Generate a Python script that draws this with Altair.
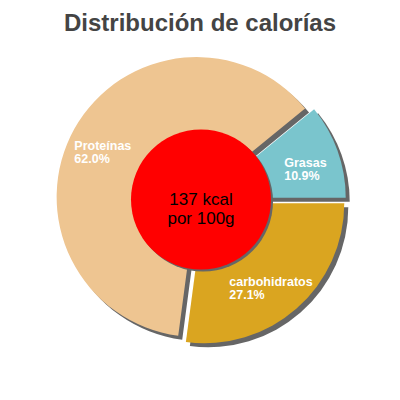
import altair as alt
import pandas as pd

# ---- data ----
categories = ["carbohidratos", "Proteínas", "Grasas"]
percent = [27.1, 62.0, 10.9]
colors = ["#DAA520", "#EEC591", "#7AC5CD"]
center_lines = ["137 kcal", "por 100g"]
title_text = "Distribución de calorías"

df = pd.DataFrame({"idx": list(range(len(categories))), "name": categories, "value": percent})
center_df = pd.DataFrame({"text": ["\n".join(center_lines)]})

# ---- layout / style ----
CX, CY = 193, 151.5
R = 140
EXPLODE = 5
LABEL_R = 105
SDX, SDY = 4, 4
FONT = "Liberation Sans"

base = (
    alt.Chart(df)
    .transform_joinaggregate(total="sum(value)")
    .transform_window(cum="sum(value)", sort=[alt.SortField("idx")], frame=[None, 0])
    .transform_calculate(
        t0="PI/2 + 2*PI*(datum.cum - datum.value)/datum.total",
        t1="PI/2 + 2*PI*datum.cum/datum.total",
    )
    .transform_calculate(mid="(datum.t0 + datum.t1)/2")
    .transform_calculate(
        cx=f"{CX} + {EXPLODE}*sin(datum.mid)",
        cy=f"{CY} - {EXPLODE}*cos(datum.mid)",
    )
    .transform_calculate(
        sx=f"datum.cx + {SDX}",
        sy=f"datum.cy + {SDY}",
        lx=f"datum.cx + {LABEL_R}*sin(datum.mid) - length(datum.name)*3.4",
        ly=f"datum.cy - {LABEL_R}*cos(datum.mid)",
        label="datum.name + '\\n' + format(datum.value, '.1f') + '%'",
    )
)

theta_enc = dict(
    theta=alt.Theta("t0:Q", scale=None, stack=None),
    theta2=alt.Theta2("t1:Q"),
)

shadow = base.mark_arc(radius=R, color="#666666").encode(
    x=alt.X("sx:Q", scale=None, axis=None),
    y=alt.Y("sy:Q", scale=None, axis=None),
    **theta_enc,
)

slices = base.mark_arc(radius=R).encode(
    x=alt.X("cx:Q", scale=None, axis=None),
    y=alt.Y("cy:Q", scale=None, axis=None),
    color=alt.Color("name:N", scale=alt.Scale(domain=categories, range=colors), legend=None),
    **theta_enc,
)

labels = base.mark_text(
    align="left", baseline="middle", lineBreak="\n", fontSize=12.5, fontWeight="bold",
    font=FONT, color="white", lineHeight=13,
).encode(
    x=alt.X("lx:Q", scale=None, axis=None),
    y=alt.Y("ly:Q", scale=None, axis=None),
    text="label:N",
)

cbase = alt.Chart(center_df)
circle_shadow = cbase.mark_arc(radius=70, theta=0, theta2=6.2832, color="#666666").encode(
    x=alt.value(CX + 2), y=alt.value(CY + 2)
)
circle = cbase.mark_arc(radius=70, theta=0, theta2=6.2832, color="#FF0000").encode(
    x=alt.value(CX), y=alt.value(CY)
)
center_text = cbase.mark_text(
    align="center", baseline="middle", lineBreak="\n", fontSize=17, font=FONT,
    color="black", lineHeight=19,
).encode(x=alt.value(CX), y=alt.value(CY), text="text:N")

chart = (
    alt.layer(shadow, slices, circle_shadow, circle, labels, center_text)
    .properties(
        width=384,
        height=344,
        padding={"top": 40, "left": 0, "right": 0, "bottom": 0},
        autosize=alt.AutoSizeParams(type="none"),
        title=alt.Title(
            title_text, fontSize=24, font=FONT, fontWeight="bold", color="#444444",
            anchor="middle", offset=12,
        ),
    )
    .configure_view(stroke=None)
)

chart.save("out.html", embed_options={"renderer": "svg", "actions": False})
